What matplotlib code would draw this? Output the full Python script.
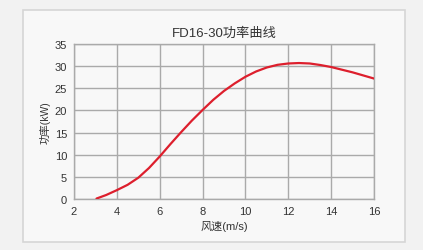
import numpy as np
import matplotlib.pyplot as plt
from matplotlib.patches import Rectangle

plt.rcParams['font.family'] = ['Liberation Sans', 'Noto Sans CJK SC', 'DejaVu Sans']

# power curve
wind_speed = [3.05, 3.5, 4, 4.5, 5, 5.5, 6, 6.5, 7, 7.5, 8, 8.5, 9, 9.5, 10,
              10.5, 11, 11.5, 12, 12.5, 13, 13.5, 14, 14.5, 15, 15.5, 16]
power = [0.1, 0.9, 2.0, 3.2, 4.8, 7.0, 9.6, 12.4, 15.1, 17.7, 20.1, 22.4, 24.4,
         26.1, 27.6, 28.8, 29.7, 30.3, 30.6, 30.7, 30.6, 30.25, 29.8, 29.2, 28.6, 27.9, 27.2]

x_ticks = [2, 4, 6, 8, 10, 12, 14, 16]
y_ticks = [0, 5, 10, 15, 20, 25, 30, 35]

fig = plt.figure(figsize=(4.23, 2.51), dpi=100)
fig.patch.set_facecolor('#f2f2f2')
fig.patches.append(Rectangle((23 / 423, 1 - 243 / 251), 382 / 423, 232 / 251,
                             transform=fig.transFigure, facecolor='#f8f8f8',
                             edgecolor='#d6d6d6', linewidth=1.2, zorder=-10))

ax = fig.add_axes([74 / 423, 1 - 200 / 251, 300 / 423, 155 / 251])
ax.set_facecolor('#f8f8f8')
ax.plot(wind_speed, power, color='#dd1f2d', linewidth=1.6, solid_capstyle='round',
        solid_joinstyle='round', zorder=3)

ax.set_xlim(2, 16)
ax.set_ylim(0, 35)
ax.set_xticks(x_ticks)
ax.set_yticks(y_ticks)
ax.grid(True, color='#aaaaaa', linewidth=1.0)
for s in ax.spines.values():
    s.set_color('#aaaaaa')
    s.set_linewidth(1.0)
ax.tick_params(length=0, labelsize=8, colors='#333333', pad=5)

ax.set_title('FD16-30功率曲线', fontsize=9.5, color='#333333', pad=6)
ax.set_xlabel('风速(m/s)', fontsize=8, color='#333333', labelpad=3)
ax.set_ylabel('功率(kW)', fontsize=7.5, color='#333333', labelpad=3)

fig.savefig('out.png', dpi=100, facecolor=fig.get_facecolor())
